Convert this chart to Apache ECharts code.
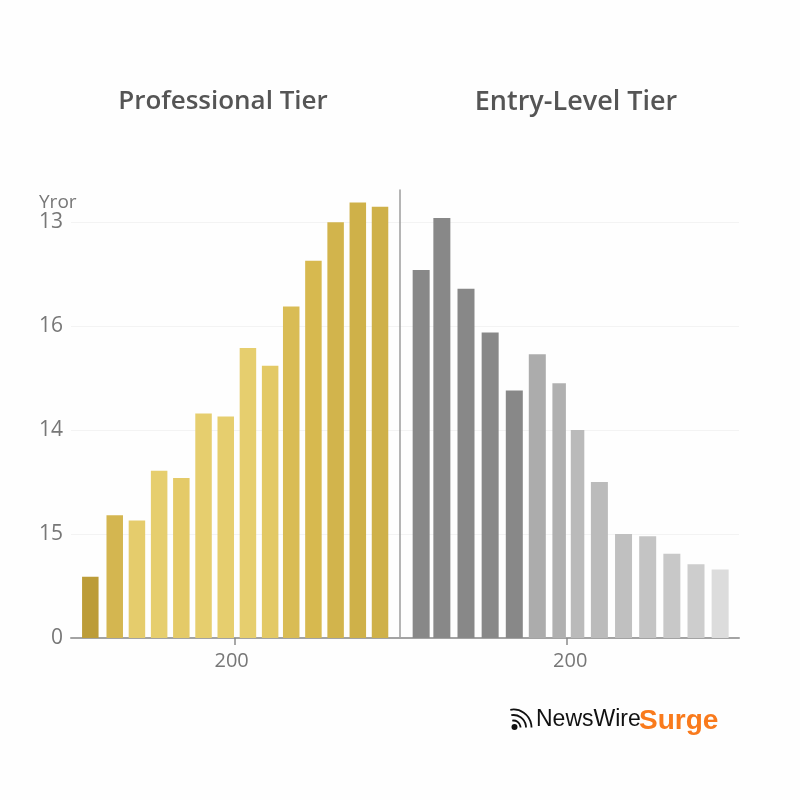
<!DOCTYPE html>
<html>
<head>
<meta charset="utf-8">
<script src="https://cdn.jsdelivr.net/npm/echarts@6/dist/echarts.min.js"></script>
<style>
    html, body { margin: 0; padding: 0; background: #fefefe; }
    #main { width: 800px; height: 800px; }
</style>
</head>
<body>
<div id="main"></div>
<script type="text/javascript">
    // values
    var yTickValues = [0, 100, 200, 300, 400];
    var yTickLabels = ['0', '15', '14', '16', '13'];
    var xTickValues = [200];

    var proBins = [135, 146, 156, 166, 176, 186, 196, 206, 216, 225.5, 235.5, 245.5, 255.5, 265.5];
    var proValues = [59, 118, 113, 161, 154, 216, 213, 279, 262, 319, 363, 400, 419, 415];
    var proColors = ['#bc9c38', '#d4b650', '#e5cc6c', '#e6ce6e', '#e4ca68', '#e6ce6e', '#e6ce6e',
        '#e6ce6e', '#e3c965', '#d9bc55', '#d7b94f', '#d2b44c', '#cfb149', '#cfb149'];

    var entryBins = [136.5, 145.5, 156, 166.5, 177, 187, 214, 224.5, 235, 245.5, 256, 266.5];
    var entryValues = [354, 404, 336, 294, 238, 273, 150, 100, 98, 81, 71, 66];
    var entryColors = ['#888888', '#888888', '#888888', '#888888', '#888888', '#acacac',
        '#bbbbbb', '#c0c0c0', '#c4c4c4', '#c8c8c8', '#cdcdcd', '#dcdcdc'];

    // the two bars either side of the tick are narrower
    var entryNarrowBins = [196.5, 204.5];
    var entryNarrowValues = [245, 200];
    var entryNarrowColors = ['#b0b0b0', '#bababa'];

    function toBars(bins, values, colors) {
        return values.map(function (v, i) {
            return { value: [bins[i], v], itemStyle: { color: colors[i] } };
        });
    }

    function xAxisFor(gridIndex, min, max, labelPadding) {
        return {
            type: 'value',
            gridIndex: gridIndex,
            min: min,
            max: max,
            splitLine: { show: false },
            axisLine: { show: true, onZero: false, lineStyle: { color: '#a3a3a3', width: 2 } },
            axisTick: { show: true, customValues: xTickValues, length: 7, lineStyle: { color: '#8a8a8a', width: 1.5 } },
            axisLabel: {
                customValues: xTickValues,
                margin: 13,
                color: '#777777',
                fontSize: 20,
                fontFamily: 'Open Sans',
                padding: labelPadding
            }
        };
    }

    function yAxisFor(gridIndex, showLine, showLabel) {
        return {
            type: 'value',
            gridIndex: gridIndex,
            min: 0,
            max: 431,
            axisLine: { show: showLine, lineStyle: { color: '#9c9c9c', width: 1.5 } },
            axisTick: { show: false, customValues: yTickValues },
            splitLine: { show: true, lineStyle: { color: '#f3f3f3', width: 1 } },
            axisLabel: {
                show: showLabel,
                customValues: yTickValues,
                margin: 8,
                color: '#777777',
                fontSize: 21,
                fontFamily: 'Open Sans',
                padding: [3, 0, 0, 0],
                formatter: function (value) {
                    return yTickLabels[yTickValues.indexOf(value)];
                }
            }
        };
    }

    function titleFont(size) {
        return { color: '#555555', fontSize: size, fontWeight: 600, fontFamily: 'Open Sans' };
    }

    var narrowX = xAxisFor(1, 127.3, 274.7, [0, 0, 0, 0]);
    narrowX.show = false;

    var option = {
        animation: false,
        backgroundColor: '#fefefe',
        title: [
            { text: 'Professional Tier', left: 218, top: 84, textAlign: 'center', textStyle: titleFont(26) },
            { text: 'Entry-Level Tier', left: 571, top: 84, textAlign: 'center', textStyle: titleFont(27) },
            { text: 'Yror', left: 34, top: 188, textStyle: { color: '#777777', fontSize: 19, fontWeight: 400, fontFamily: 'Open Sans' } }
        ],
        grid: [
            { left: 71, width: 329, top: 190, height: 448 },
            { left: 400, width: 339, top: 190, height: 448 }
        ],
        xAxis: [
            xAxisFor(0, 126.3, 274.5, [0, 6, 0, 0]),
            xAxisFor(1, 127.3, 274.7, [0, 0, 0, 6]),
            narrowX
        ],
        yAxis: [
            yAxisFor(0, false, true),
            yAxisFor(1, true, false)
        ],
        series: [
            { type: 'bar', xAxisIndex: 0, yAxisIndex: 0, barWidth: 16.5, data: toBars(proBins, proValues, proColors) },
            { type: 'bar', xAxisIndex: 1, yAxisIndex: 1, barWidth: 17, data: toBars(entryBins, entryValues, entryColors) },
            { type: 'bar', xAxisIndex: 2, yAxisIndex: 1, barWidth: 13.5, data: toBars(entryNarrowBins, entryNarrowValues, entryNarrowColors) }
        ],
        graphic: [
            { type: 'circle', shape: { cx: 514.5, cy: 727, r: 3 }, style: { fill: '#111111' } },
            { type: 'arc', shape: { cx: 513.5, cy: 727.5, r: 7, startAngle: -1.75, endAngle: 0 }, style: { stroke: '#111111', fill: null, lineWidth: 1.8 } },
            { type: 'arc', shape: { cx: 513.5, cy: 727.5, r: 12.5, startAngle: -1.75, endAngle: 0 }, style: { stroke: '#111111', fill: null, lineWidth: 1.8 } },
            { type: 'arc', shape: { cx: 513.5, cy: 727.5, r: 18, startAngle: -1.75, endAngle: 0 }, style: { stroke: '#111111', fill: null, lineWidth: 1.8 } },
            { type: 'text', left: 536, top: 708, style: { text: 'NewsWire', fill: '#111111', fontSize: 23, fontFamily: 'Liberation Sans' } },
            { type: 'text', left: 639, top: 707, style: { text: 'Surge', fill: '#f97a1c', fontSize: 28, fontWeight: 'bold', fontFamily: 'Liberation Sans' } }
        ]
    };

    var myChart = echarts.init(document.getElementById('main'));
    myChart.setOption(option);
</script>
</body>
</html>
